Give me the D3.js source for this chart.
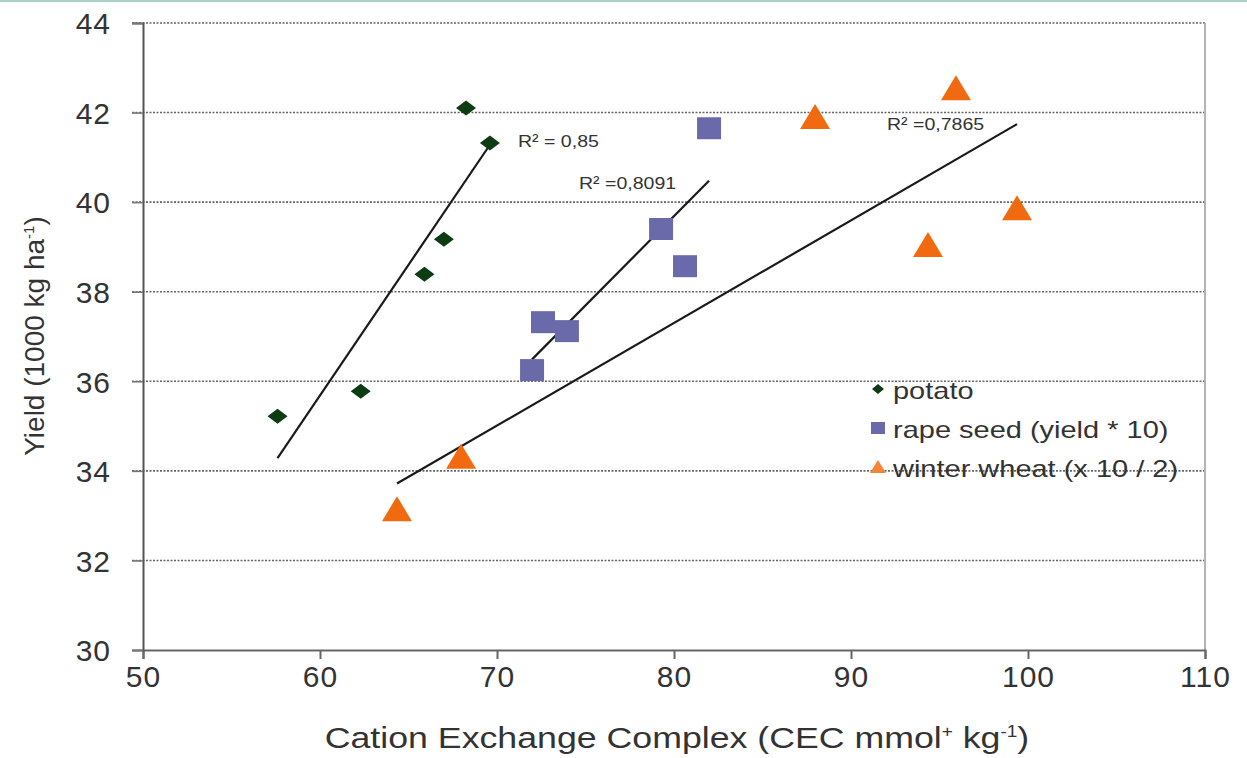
<!DOCTYPE html>
<html>
<head>
<meta charset="utf-8">
<script src="https://cdn.jsdelivr.net/npm/d3@7"></script>
<style>
body { margin: 0; background: #fff; }
text { font-family: "Liberation Sans", Arial, sans-serif; fill: #333; }
</style>
</head>
<body>
<script>
// values
var potato_x = [57.6, 62.3, 65.9, 67.0, 68.25, 69.6]
var potato_y = [35.22, 35.78, 38.39, 39.17, 42.1, 41.32]
var rape_x = [71.98, 72.6, 73.95, 79.27, 80.62, 81.98]
var rape_y = [36.25, 37.32, 37.12, 39.4, 38.57, 41.65]
var wheat_x = [64.35, 67.97, 87.97, 95.93, 94.35, 99.38]
var wheat_y = [33.12, 34.29, 41.88, 42.52, 39.02, 39.84]
var series_names = ["potato", "rape seed (yield * 10)", "winter wheat (x 10 / 2)"]
var r2_labels = ["R² = 0,85", "R² =0,8091", "R² =0,7865"]
var x_ticks = [50, 60, 70, 80, 90, 100, 110]
var y_ticks = [30, 32, 34, 36, 38, 40, 42, 44]

var w = 1247, h = 758
var margin = {left: 143, right: 42, top: 23, bottom: 108}
var stretch = 1.19

var svg = d3.select("body").append("svg")
.attr("width", w)
.attr("height", h)

svg.append("rect")
.attr("width", w).attr("height", 2)
.attr("fill", "#a9d2c4")

var x = d3.scaleLinear().domain([50, 110]).range([margin.left, w - margin.right])
var y = d3.scaleLinear().domain([30, 44]).range([h - margin.bottom, margin.top])

// grid lines
svg.append("g")
.selectAll("line")
.data(y_ticks.filter(function(d){ return d > 30 }))
.enter().append("line")
.attr("x1", x(50) - 11)
.attr("x2", x(110))
.attr("y1", function(d){ return y(d) })
.attr("y2", function(d){ return y(d) })
.attr("stroke", "#666")
.attr("stroke-width", 1.6)
.attr("stroke-dasharray", "2,1.5")

// right border
svg.append("line")
.attr("x1", x(110)).attr("x2", x(110))
.attr("y1", y(44)).attr("y2", y(30))
.attr("stroke", "#b5b5b5")
.attr("stroke-width", 2)

// axes
var xAxis = svg.append("g")
.attr("transform", "translate(0," + y(30) + ")")
.call(d3.axisBottom(x).tickValues(x_ticks).tickSize(9).tickPadding(7))
var yAxis = svg.append("g")
.attr("transform", "translate(" + x(50) + ",0)")
.call(d3.axisLeft(y).tickValues(y_ticks).tickSize(11).tickPadding(21))

xAxis.select(".domain").attr("stroke", "#666").attr("stroke-width", 2)
yAxis.select(".domain").attr("stroke", "#555").attr("stroke-width", 2)
xAxis.selectAll(".tick line").attr("stroke", "#666").attr("stroke-width", 2)
yAxis.selectAll(".tick line").attr("stroke", "#777").attr("stroke-width", 1.6)
xAxis.selectAll("text").style("font-size", "30px").style("letter-spacing", "1px").attr("fill", "#333")
yAxis.selectAll("text").style("font-size", "30px").style("letter-spacing", "1px").attr("fill", "#333").attr("dy", "0.36em")

// axis titles
svg.append("text")
.attr("transform", "translate(677,748) scale(" + stretch + ",1)")
.attr("text-anchor", "middle")
.style("font-size", "30px")
.html("Cation Exchange Complex (CEC mmol<tspan dy='-11' font-size='16px'>+</tspan><tspan dy='11'> kg</tspan><tspan dy='-11' font-size='16px'>-1</tspan><tspan dy='11'>)</tspan>")

svg.append("text")
.attr("transform", "translate(44,336) rotate(-90)")
.attr("text-anchor", "middle")
.style("font-size", "28px")
.html("Yield (1000 kg ha<tspan dy='-10' font-size='15px'>-1</tspan><tspan dy='10'>)</tspan>")

// trend lines
function fit(xs, ys) {
  var mx = d3.mean(xs), my = d3.mean(ys)
  var sxy = d3.sum(xs, function(v, i){ return (v - mx) * (ys[i] - my) })
  var sxx = d3.sum(xs, function(v){ return (v - mx) * (v - mx) })
  var b = sxy / sxx
  var x0 = d3.min(xs), x1 = d3.max(xs)
  return [[x0, my + b * (x0 - mx)], [x1, my + b * (x1 - mx)]]
}
var series = [[potato_x, potato_y], [rape_x, rape_y], [wheat_x, wheat_y]]
var line = d3.line().x(function(d){ return x(d[0]) }).y(function(d){ return y(d[1]) })
series.forEach(function(s){
svg.append("path")
.attr("d", line(fit(s[0], s[1])))
.attr("stroke", "#1a1a1a")
.attr("stroke-width", 2.2)
.attr("fill", "none")
})

// R² labels
var r2_pos = [[518, 147], [579, 189], [887, 130]]
r2_labels.forEach(function(t, i){
svg.append("text")
.attr("transform", "translate(" + r2_pos[i][0] + "," + r2_pos[i][1] + ") scale(1.15,1)")
.style("font-size", "17px")
.attr("fill", "#444")
.text(t)
})

// markers
var diamond = "M-10,0L0,-7.5L10,0L0,7.5Z"
var square = "M-12,-11L12,-11L12,11L-12,11Z"
var triangle = "M0,-14L15,11L-15,11Z"
var shapes = [diamond, square, triangle]
var colors = ["#0d3b12", "#6a6aaa", "#f26a10"]

series.forEach(function(s, k){
svg.append("g")
.selectAll("path")
.data(s[0])
.enter().append("path")
.attr("d", shapes[k])
.attr("transform", function(d, i){ return "translate(" + x(d) + "," + y(s[1][i]) + ")" })
.attr("fill", colors[k])
})

// legend
var legend_shapes = ["M-6,0L0,-5L6,0L0,5Z", "M-7,-6L7,-6L7,6L-7,6Z", "M0,-7L8,6L-8,6Z"]
var legend_y = [389, 428, 467]
series_names.forEach(function(n, i){
svg.append("path")
.attr("d", legend_shapes[i])
.attr("transform", "translate(878," + legend_y[i] + ")")
.attr("fill", i == 2 ? "#f5853a" : colors[i])
svg.append("text")
.attr("transform", "translate(893," + (legend_y[i] + 10) + ") scale(1.26,1)")
.style("font-size", "23px")
.attr("fill", "#444")
.text(n)
})
</script>
</body>
</html>
